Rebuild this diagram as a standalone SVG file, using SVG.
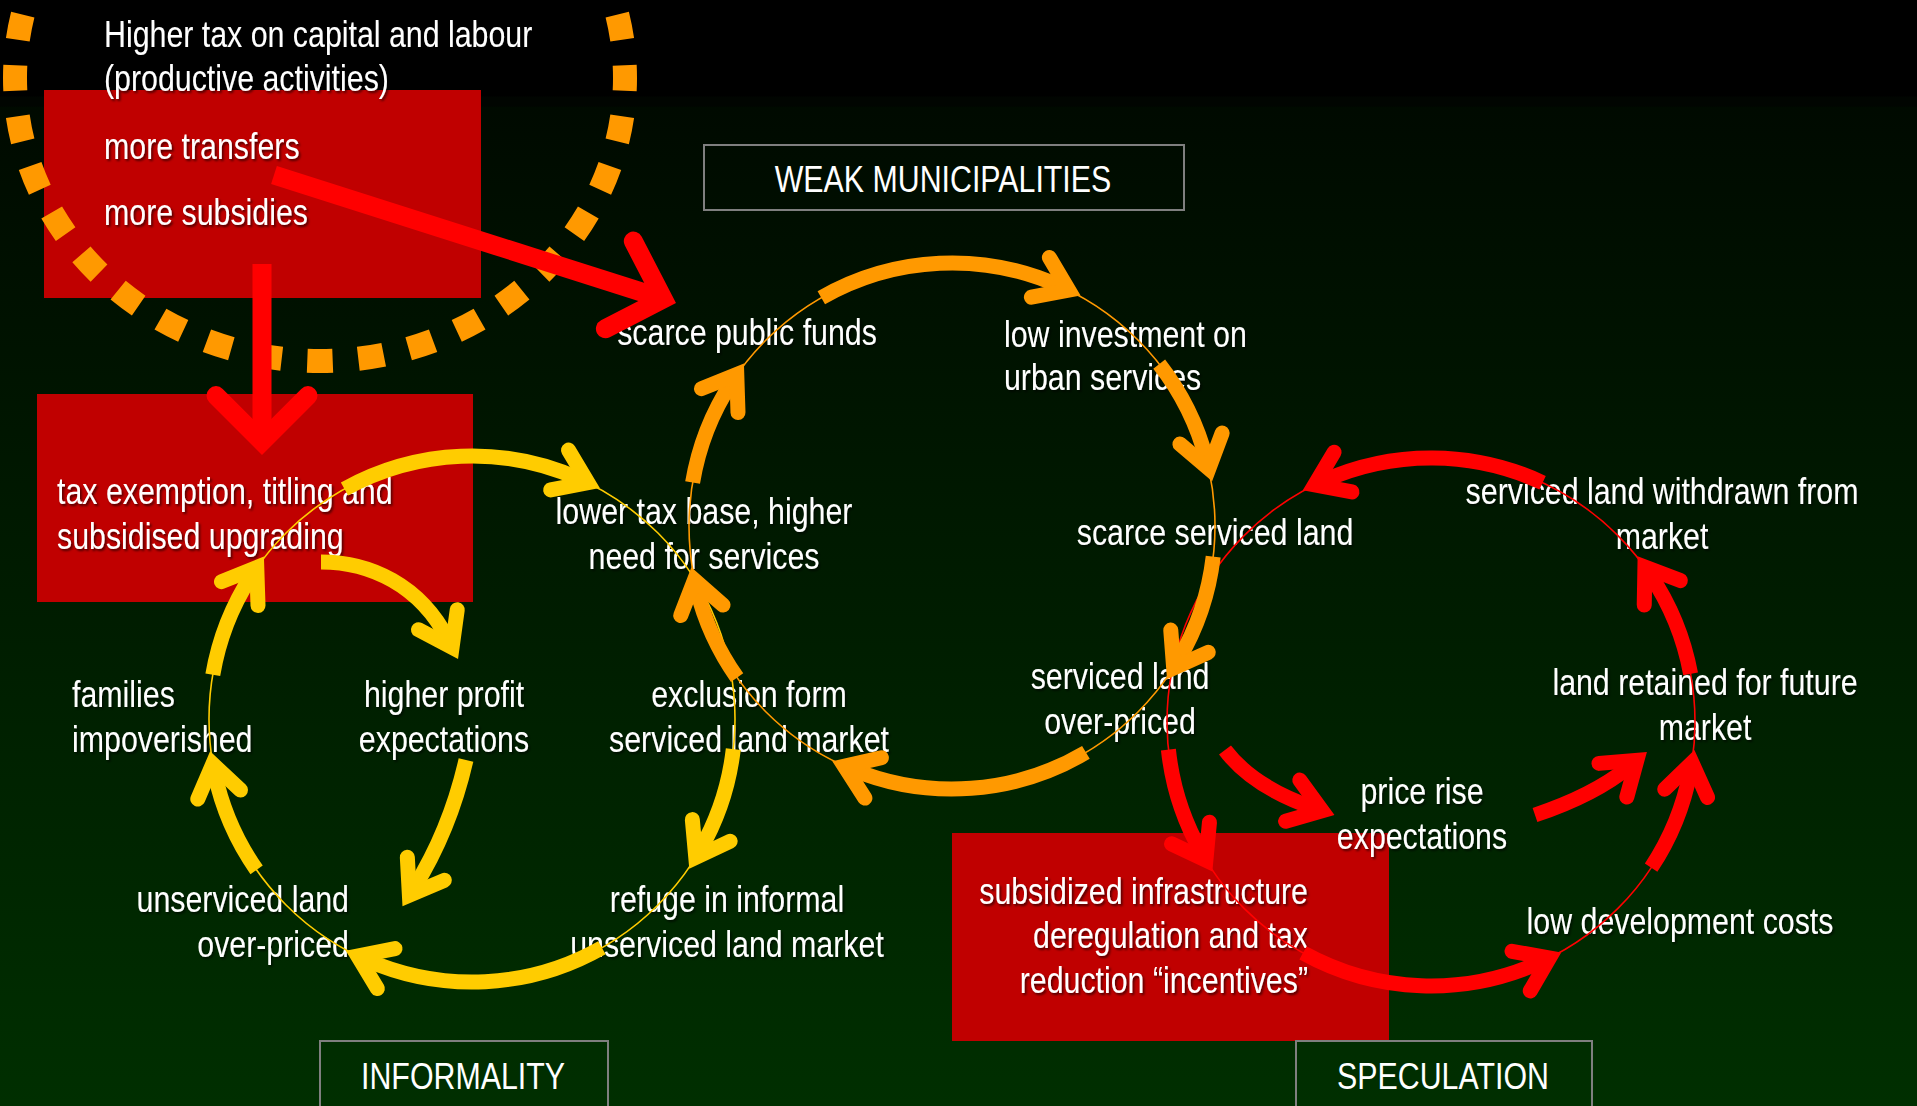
<svg xmlns="http://www.w3.org/2000/svg" width="1917" height="1106" viewBox="0 0 1917 1106">
<defs>
<linearGradient id="bgg" x1="0" y1="0" x2="0" y2="1">
<stop offset="0" stop-color="#000000"/>
<stop offset="0.087" stop-color="#000000"/>
<stop offset="0.0875" stop-color="#010501"/>
<stop offset="0.096" stop-color="#010501"/>
<stop offset="0.097" stop-color="#000a00"/>
<stop offset="1" stop-color="#002f00"/>
</linearGradient>
<filter id="sh" x="-10%" y="-30%" width="120%" height="160%">
<feDropShadow dx="2" dy="2" stdDeviation="1" flood-color="#000000" flood-opacity="0.6"/>
</filter>
<marker id="hy" markerUnits="userSpaceOnUse" orient="auto" overflow="visible" markerWidth="10" markerHeight="10" refX="0" refY="0">
<path d="M-22.2,-21.8 L8.9,0 L-22.2,21.8" fill="none" stroke="#FFCC00" stroke-width="15" stroke-linecap="round" stroke-linejoin="miter"/>
</marker>
<marker id="ho" markerUnits="userSpaceOnUse" orient="auto" overflow="visible" markerWidth="10" markerHeight="10" refX="0" refY="0">
<path d="M-22.2,-21.8 L8.9,0 L-22.2,21.8" fill="none" stroke="#FF9900" stroke-width="15" stroke-linecap="round" stroke-linejoin="miter"/>
</marker>
<marker id="hr" markerUnits="userSpaceOnUse" orient="auto" overflow="visible" markerWidth="10" markerHeight="10" refX="0" refY="0">
<path d="M-22.2,-21.8 L8.9,0 L-22.2,21.8" fill="none" stroke="#FF0000" stroke-width="15" stroke-linecap="round" stroke-linejoin="miter"/>
</marker>
<marker id="hbig" markerUnits="userSpaceOnUse" orient="auto" overflow="visible" markerWidth="10" markerHeight="10" refX="0" refY="0">
<path d="M-39.4,-46 L6.6,0 L-39.4,46" fill="none" stroke="#FF0000" stroke-width="19" stroke-linecap="round" stroke-linejoin="miter"/>
</marker>
</defs>
<style>
.t{font-family:"Liberation Sans",Arial,sans-serif;font-size:37px;fill:#FFFFFF}
.sh{filter:url(#sh)}
.m{text-anchor:middle}
.e{text-anchor:end}
.box{fill:#C00000}
.lbl{fill:none;stroke:#7F7F7F;stroke-width:2}
.thin{fill:none;stroke-width:1.6}
.ky{fill:none;stroke:#FFCC00;stroke-width:15;marker-end:url(#hy)}
.ko{fill:none;stroke:#FF9900;stroke-width:15;marker-end:url(#ho)}
.kr{fill:none;stroke:#FF0000;stroke-width:15;marker-end:url(#hr)}
.big{fill:none;stroke:#FF0000;stroke-width:19;marker-end:url(#hbig)}
</style>
<rect id="bg" x="0" y="0" width="1917" height="1106" fill="url(#bgg)"/>

<g id="box-transfers"><rect class="box" x="44" y="90" width="437" height="208"/></g>
<g id="box-tax-exemption"><rect class="box" x="37" y="394" width="436" height="208"/></g>
<g id="box-subsidized"><rect class="box" x="952" y="833" width="437" height="208"/></g>

<ellipse id="dotted-ring" cx="320" cy="78" rx="305" ry="283" fill="none" stroke="#FF9900" stroke-width="24" pathLength="36" stroke-dasharray="0.5 0.5" stroke-dashoffset="0.25"/>

<g id="node-higher-tax" class="t sh" transform="translate(104 2) scale(0.82 1)"><text x="0" y="45">Higher tax on capital and labour</text><text x="0" y="89">(productive activities)</text></g>
<g id="node-more-transfers" class="t sh" transform="translate(104 2) scale(0.82 1)"><text x="0" y="157">more transfers</text></g>
<g id="node-more-subsidies" class="t sh" transform="translate(104 2) scale(0.82 1)"><text x="0" y="223">more subsidies</text></g>
<g id="node-weak-municipalities"><rect class="lbl" x="704" y="145" width="480" height="65"/><g transform="translate(943 2) scale(0.82 1)"><text class="t m" x="0" y="190">WEAK MUNICIPALITIES</text></g></g>
<g id="node-scarce-funds" class="t sh m" transform="translate(747 2) scale(0.82 1)"><text x="0" y="343">scarce public funds</text></g>
<g id="node-low-investment" class="t sh" transform="translate(1004 2) scale(0.82 1)"><text x="0" y="345">low investment on</text><text x="0" y="388">urban services</text></g>
<g id="node-lower-tax-base" class="t sh m" transform="translate(704 2) scale(0.82 1)"><text x="0" y="522">lower tax base, higher</text><text x="0" y="567">need for services</text></g>
<g id="node-scarce-serviced" class="t sh m" transform="translate(1215 2) scale(0.82 1)"><text x="0" y="543">scarce serviced land</text></g>
<g id="node-withdrawn" class="t sh m" transform="translate(1662 2) scale(0.82 1)"><text x="0" y="502">serviced land withdrawn from</text><text x="0" y="547">market</text></g>
<g id="node-tax-exemption" class="t sh" transform="translate(57 2) scale(0.82 1)"><text x="0" y="502">tax exemption, titling and</text><text x="0" y="547">subsidised upgrading</text></g>
<g id="node-families" class="t sh" transform="translate(72 2) scale(0.82 1)"><text x="0" y="705">families</text><text x="0" y="750">impoverished</text></g>
<g id="node-higher-profit" class="t sh m" transform="translate(444 2) scale(0.82 1)"><text x="0" y="705">higher profit</text><text x="0" y="750">expectations</text></g>
<g id="node-exclusion" class="t sh m" transform="translate(749 2) scale(0.82 1)"><text x="0" y="705">exclusion form</text><text x="0" y="750">serviced land market</text></g>
<g id="node-serviced-overpriced" class="t sh m" transform="translate(1120 2) scale(0.82 1)"><text x="0" y="687">serviced land</text><text x="0" y="732">over-priced</text></g>
<g id="node-land-retained" class="t sh m" transform="translate(1705 2) scale(0.82 1)"><text x="0" y="693">land retained for future</text><text x="0" y="738">market</text></g>
<g id="node-price-rise" class="t sh m" transform="translate(1422 2) scale(0.82 1)"><text x="0" y="802">price rise</text><text x="0" y="847">expectations</text></g>
<g id="node-unserviced-overpriced" class="t sh e" transform="translate(349 2) scale(0.82 1)"><text x="0" y="910">unserviced land</text><text x="0" y="955">over-priced</text></g>
<g id="node-refuge" class="t sh m" transform="translate(727 2) scale(0.82 1)"><text x="0" y="910">refuge in informal</text><text x="0" y="955">unserviced land market</text></g>
<g id="node-subsidized" class="t sh e" transform="translate(1308 2) scale(0.82 1)"><text x="0" y="902">subsidized infrastructure</text><text x="0" y="946">deregulation and tax</text><text x="0" y="991">reduction “incentives”</text></g>
<g id="node-low-dev" class="t sh m" transform="translate(1680 2) scale(0.82 1)"><text x="0" y="932">low development costs</text></g>
<g id="node-informality"><rect class="lbl" x="320" y="1041" width="288" height="80"/><g transform="translate(463 2) scale(0.82 1)"><text class="t m" x="0" y="1087">INFORMALITY</text></g></g>
<g id="node-speculation"><rect class="lbl" x="1296" y="1041" width="296" height="80"/><g transform="translate(1443 2) scale(0.82 1)"><text class="t m" x="0" y="1087">SPECULATION</text></g></g>

<g id="connectors">
<circle class="thin" cx="472" cy="719" r="263" stroke="#FFCC00"/>
<circle class="thin" cx="952" cy="526" r="263" stroke="#FF9900"/>
<circle class="thin" cx="1431" cy="722" r="264" stroke="#FF0000"/>

<path class="ky" d="M344.5,489 A263,263 0 0 1 579.8,479.1"/>
<path class="ky" d="M212.8,674.7 A263,263 0 0 1 251.9,575"/>
<path class="ky" d="M256.6,869.9 A263,263 0 0 1 214.6,772.8"/>
<path class="ky" d="M601.9,947.7 A263,263 0 0 1 365.9,959.6"/>
<path class="ky" d="M733.3,749.2 A263,263 0 0 1 700.2,849.7"/>
<path class="ky" d="M321,562 C370,562 420,585 448,639.5"/>
<path class="ky" d="M466,760 Q450,830 414.1,887.6"/>

<path class="ko" d="M821.3,297.8 A263,263 0 0 1 1060.6,286.5"/>
<path class="ko" d="M1159.2,364.1 A263,263 0 0 1 1206.6,460.1"/>
<path class="ko" d="M1213.2,556.7 A263,263 0 0 1 1178.2,660.3"/>
<path class="ko" d="M1085.9,752.4 A263,263 0 0 1 852.6,769.5"/>
<path class="ko" d="M737.1,677.6 A263,263 0 0 1 696.6,588.7"/>
<path class="ko" d="M692.6,482.6 A263,263 0 0 1 731.9,382"/>

<path class="kr" d="M1542.6,482.7 A264,264 0 0 0 1322.8,481.2"/>
<path class="kr" d="M1690.6,673.9 A264,264 0 0 0 1649.9,574.4"/>
<path class="kr" d="M1651.1,867.7 A264,264 0 0 0 1690.3,771.5"/>
<path class="kr" d="M1303,952.9 A264,264 0 0 0 1541.3,961.8"/>
<path class="kr" d="M1168.4,749.6 A264,264 0 0 0 1201.5,852.4"/>
<path class="kr" d="M1225,750 Q1253,787 1313.7,807.9"/>
<path class="kr" d="M1535,815 Q1595,795 1630,766"/>

<path class="big" d="M274,175 L656.9,296.9"/>
<path class="big" d="M262,264 L262,435"/>
</g>
</svg>
